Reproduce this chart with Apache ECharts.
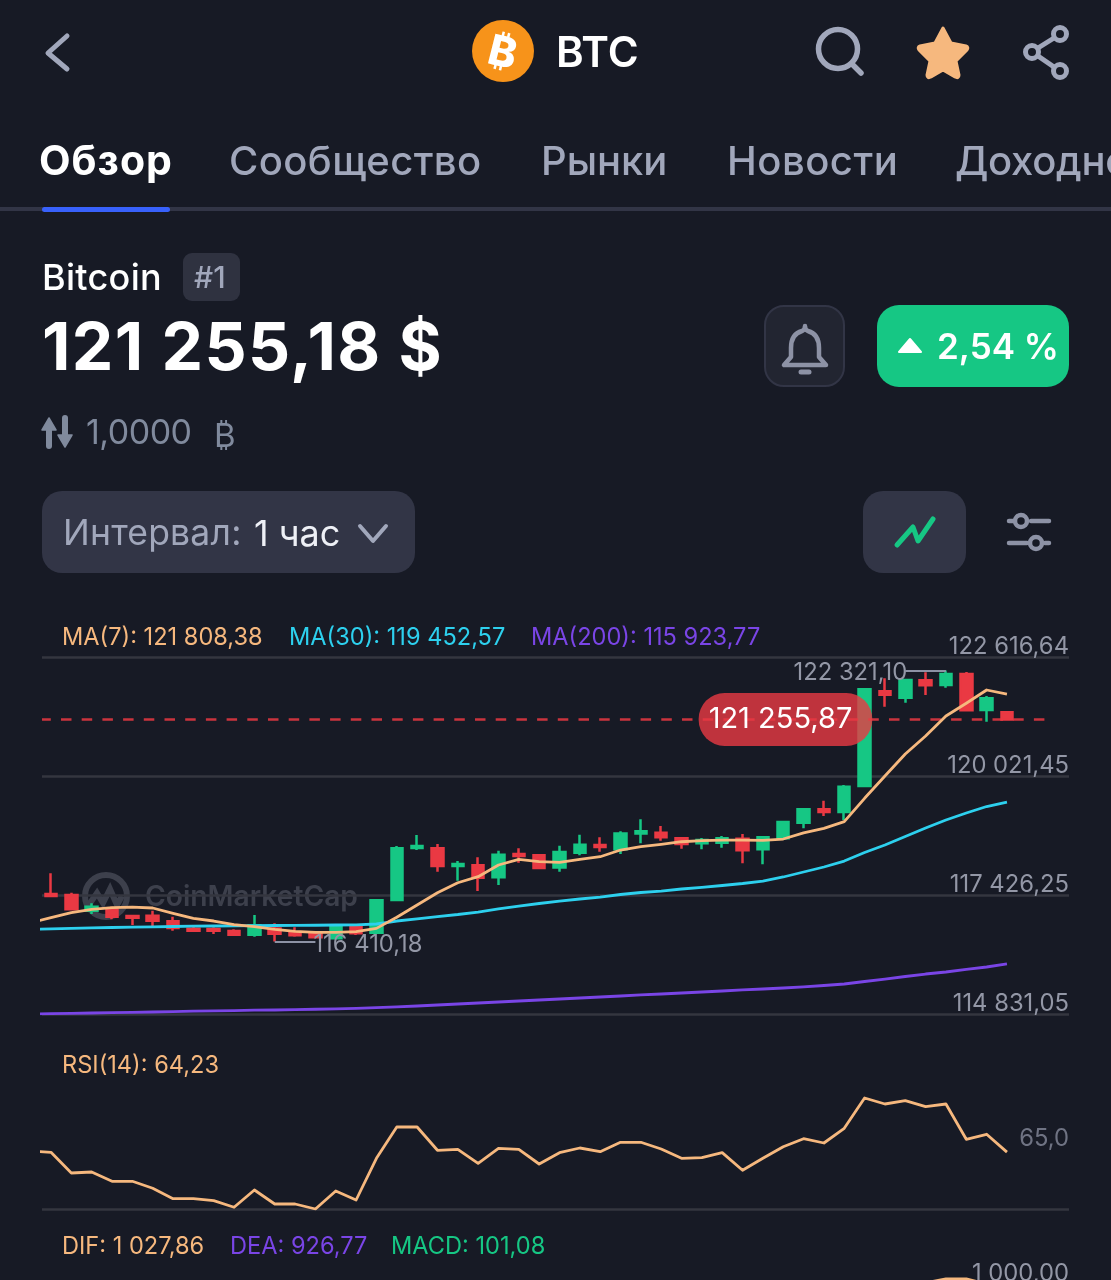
<!DOCTYPE html>
<html lang="ru">
<head>
<meta charset="utf-8">
<title>BTC</title>
<script src="https://cdn.jsdelivr.net/npm/echarts@6/dist/echarts.min.js"></script>
<style>
  html, body { margin: 0; padding: 0; width: 1111px; height: 1280px; overflow: hidden; background: #171a25; font-family: Inter, sans-serif; }
  #chart { position: absolute; left: 0; top: 0; width: 1111px; height: 1280px; }
  .t { position: absolute; white-space: nowrap; line-height: 1; }
  .box { position: absolute; box-sizing: border-box; }
  svg.ic { position: absolute; left: 0; top: 0; width: 1111px; height: 600px; pointer-events: none; }
</style>
</head>
<body>
<div id="chart"></div>

<div class="box" style="left:0;top:207px;width:1111px;height:4px;background:#323546"></div>
<div class="box" style="left:42px;top:207px;width:128px;height:5px;background:#3861fb;border-radius:3px"></div>
<div class="box" style="left:183px;top:253px;width:57px;height:48px;background:#2f3240;border-radius:9px"></div>
<div class="box" style="left:764px;top:305px;width:81px;height:82px;background:#222531;border:2px solid #323546;border-radius:20px"></div>
<div class="box" style="left:877px;top:305px;width:192px;height:82px;background:#16c784;border-radius:22px"></div>
<div class="box" style="left:42px;top:491px;width:373px;height:82px;background:#323546;border-radius:20px"></div>
<div class="box" style="left:863px;top:491px;width:103px;height:82px;background:#323546;border-radius:20px"></div>

<svg class="ic" viewBox="0 0 1111 600" fill="none" stroke-linecap="round" stroke-linejoin="round">
  <path d="M67 36 L48 53 L67 69" stroke="#a1a7bb" stroke-width="5"/>
  <circle cx="503" cy="51" r="31" fill="#f7931a"/>
  <circle cx="838" cy="49" r="19.5" stroke="#a1a7bb" stroke-width="5.5"/>
  <path d="M852 64 L861 73" stroke="#a1a7bb" stroke-width="5.5"/>
  <path d="M943 28 L951 43 L966 46 Q969 47 967 50 L956 61 L959 75 Q959 79 955 77 L943 70 L931 77 Q927 79 927 75 L930 61 L919 50 Q917 47 920 46 L935 43 Z" fill="#f6b87e" stroke="#f6b87e" stroke-width="3"/>
  <circle cx="1060" cy="34" r="6.5" stroke="#a1a7bb" stroke-width="5"/>
  <circle cx="1032" cy="52" r="6.5" stroke="#a1a7bb" stroke-width="5"/>
  <circle cx="1060" cy="71" r="6.5" stroke="#a1a7bb" stroke-width="5"/>
  <path d="M1038 48 L1054 38 M1038 56 L1054 67" stroke="#a1a7bb" stroke-width="5"/>
  <path d="M805 326 Q805 330 802 331 Q791 334 791 348 L791 357 L784 365 L826 365 L819 357 L819 348 Q819 334 808 331 Q805 330 805 326 Z" stroke="#8d92a5" stroke-width="4.5"/>
  <path d="M801 372 L809 372" stroke="#8d92a5" stroke-width="5"/>
  <path d="M910 339 L921 352 L899 352 Z" fill="#fff" stroke="#fff" stroke-width="2"/>
  <path d="M49 430 L49 446" stroke="#808a9d" stroke-width="6"/>
  <path d="M49 418 L56 430 L42 430 Z" fill="#808a9d" stroke="#808a9d" stroke-width="1.5"/>
  <path d="M65 418 L65 435" stroke="#808a9d" stroke-width="6"/>
  <path d="M65 447 L72 435 L58 435 Z" fill="#808a9d" stroke="#808a9d" stroke-width="1.5"/>
  <path d="M360 526 L373 541 L386 526" stroke="#a1a7bb" stroke-width="4"/>
  <path d="M897 545 L913 527 L918 541 L933 519" stroke="#16c784" stroke-width="5"/>
  <circle cx="1021" cy="521" r="6" stroke="#8d92a5" stroke-width="4.5"/>
  <circle cx="1036" cy="543" r="6" stroke="#8d92a5" stroke-width="4.5"/>
  <path d="M1009 521 L1013 521 M1031 521 L1049 521 M1009 543 L1027 543 M1045 543 L1049 543" stroke="#8d92a5" stroke-width="4.5"/>
</svg>

<span class="t" style="left:503px;top:51px;transform:translate(-50%,-50%) rotate(14deg);font:800 42px Inter;color:#fff">₿</span>
<span class="t" style="left:556px;top:31px;font-size:42px;font-weight:600;color:#fff">BTC</span>

<span class="t" style="left:39px;top:140px;font-size:41px;font-weight:700;color:#fff;letter-spacing:1px">Обзор</span>
<span class="t" style="left:229px;top:141px;font-size:40px;font-weight:500;color:#a1a7bb;letter-spacing:.4px">Сообщество</span>
<span class="t" style="left:541px;top:141px;font-size:40px;font-weight:500;color:#a1a7bb">Рынки</span>
<span class="t" style="left:727px;top:141px;font-size:40px;font-weight:500;color:#a1a7bb;letter-spacing:.5px">Новости</span>
<span class="t" style="left:955px;top:141px;font-size:40px;font-weight:500;color:#a1a7bb;letter-spacing:-.3px">Доходность</span>

<span class="t" style="left:42px;top:259px;font-size:36px;font-weight:500;color:#fff;letter-spacing:.3px">Bitcoin</span>
<span class="t" style="left:194px;top:262px;font-size:30px;font-weight:500;color:#a1a7bb">#1</span>
<span class="t" style="left:42px;top:313px;font-size:66px;font-weight:700;color:#fff;letter-spacing:1.35px">121 255,18 $</span>
<span class="t" style="left:937px;top:329px;font-size:35px;font-weight:600;color:#fff">2,54 %</span>
<span class="t" style="left:86px;top:415px;font-size:34px;font-weight:400;color:#808a9d;letter-spacing:-.5px">1,0000</span>
<span class="t" style="left:214px;top:415px;font:400 33px Inter;color:#808a9d">₿</span>
<span class="t" style="left:63px;top:515px;font-size:35.5px;font-weight:400;color:#a1a7bb;letter-spacing:.2px">Интервал:</span>
<span class="t" style="left:254px;top:515px;font-size:36px;font-weight:400;color:#eef0f6">1 час</span>

<script>
// price axis of the candle panel
const priceTicks = [114831.05, 117426.25, 120021.45, 122616.64];
const lastPrice = 121255.87;
const lowMark = 116410.18;
const highMark = 122321.10;

// index of each candle, left to right
const candleIndex = [0,1,2,3,4,5,6,7,8,9,10,11,12,13,14,15,16,17,18,19,20,21,22,23,24,25,26,27,28,29,30,31,32,33,34,35,36,37,38,39,40,41,42,43,44,45,46,47];

const opens = [117448,117426,117084,117114,116968,116975,116852,116691,116685,116641,116560,116698,116591,116569,116482,116722,116604,117317,118451,118444,118058,118074,117812,118320,118292,118028,118348,118516,118423,118769,118783,118663,118553,118567,118654,118423,118663,119003,119295,119236,119803,121869,121729,122109,122006,122246,121461,121411];
const closes = [117404,117114,117171,116953,116931,116866,116706,116647,116647,116560,116765,116582,116547,116504,116722,116591,117310,118444,118495,118058,118102,117803,118305,118277,118015,118364,118523,118471,118769,118815,118684,118538,118625,118663,118401,118684,119016,119295,119236,119788,121913,121795,122115,122000,122246,121454,121716,121255.87];
const lows = [117404,117110,117012,116896,116772,116750,116647,116634,116576,116538,116517,116410.18,116517,116488,116466,116554,116591,117289,118407,117934,117738,117513,117644,118130,118006,117934,118292,118370,118320,118553,118608,118434,118423,118458,118117,118096,118654,118881,119149,119062,119788,121533,121620,121788,121947,121446,121206,121255.87];
const highs = [117899,117476,117245,117171,116983,117084,116953,116772,116722,116678,116990,116809,116722,116597,116772,116750,117332,118493,118735,118538,118167,118248,118392,118444,118298,118501,118741,118684,118815,119077,118931,118684,118667,118713,118754,118684,119025,119310,119483,119825,121913,122152,122115,122283,122321.10,122290,121766,121417];

// moving averages and indicators start one hour earlier, cut off by the panel edge
const lineIndex = [-1].concat(candleIndex);
const ma7 = [116824,116931,117040,117114,117149,117164,117143,117027,116918,116859,116778,116735,116678,116634,116613,116613,116626,116698,116940,117208,117476,117694,117825,118080,118205,118152,118139,118205,118261,118407,118479,118532,118588,118610,118625,118625,118619,118647,118783,118881,119025,119535,120021,120501,120894,121330,121607,121897,121808.38];
const ma30 = [116674,116689,116700,116709,116717,116724,116730,116739,116746,116750,116754,116757,116761,116765,116767,116772,116776,116794,116859,116907,116957,117001,117055,117125,117186,117241,117295,117339,117382,117437,117481,117513,117557,117594,117633,117677,117731,117819,117928,118037,118167,118353,118516,118702,118887,119062,119214,119356,119452.57];
const ma200 = [114831,114838,114844,114853,114860,114866,114875,114884,114892,114899,114905,114914,114918,114927,114935,114944,114955,114970,114988,115005,115027,115049,115071,115093,115115,115136,115158,115180,115202,115224,115246,115267,115289,115311,115333,115355,115376,115398,115424,115453,115485,115540,115594,115649,115703,115747,115802,115856,115923.77];
const rsi = [64.5,64.18,59,59.25,56.93,56.93,55.18,52.58,52.58,52.08,50.43,54.75,51.25,51.25,50,54.5,52.25,62.68,70.5,70.5,64.68,64.93,61.43,65.18,64.93,61.25,64.08,65.25,64.33,66.68,66.68,65,62.68,62.83,64.08,59.68,62.68,65.58,67.58,66.5,70.18,77.75,76.25,77.08,75.58,76.25,67.43,68.68,64.23];

// only the tail of DIF reaches into the visible strip
const difIndex = [40,41,42,43,44,45,46,47];
const dif = [640,800,930,1020,1085,1085,1000,1027.86];

const UP = '#16c784';
const DOWN = '#ea3943';
const GRID = '#34363f';
const LABEL = '#9397a6';
const MA7_COLOR = '#f6b87e';
const MA30_COLOR = '#2dd0ee';
const MA200_COLOR = '#7a45e6';

function formatRu(v, digits) {
    const parts = v.toFixed(digits).split('.');
    return parts[0].replace(/\B(?=(\d{3})+$)/g, ' ') + ',' + parts[1];
}

function pairs(xs, ys) {
    return xs.map((x, i) => [x, ys[i]]);
}

function legendText(x, y, text, color) {
    return {
        type: 'text', left: x, top: y,
        style: { text, fill: color, font: '400 23.6px Inter' },
    };
}

function valueAxis(gridIndex, min, max, tickValues, labelValues, labelFormat, labelColor, labelLineHeight) {
    return {
        type: 'value', gridIndex, position: 'right', min, max, scale: true,
        axisLine: { show: false },
        axisTick: { show: false, customValues: tickValues },
        splitLine: { show: true, lineStyle: { color: GRID, width: 2.5 } },
        axisLabel: {
            show: true, inside: true, margin: 0, align: 'right', verticalAlign: 'bottom',
            color: labelColor, fontSize: 23.8, fontFamily: 'Inter', lineHeight: labelLineHeight,
            customValues: labelValues, formatter: labelFormat,
        },
    };
}

function xAxisFor(gridIndex) {
    return { type: 'value', gridIndex, min: -0.4425, max: 50.05, show: false, splitLine: { show: false } };
}

function lineSeries(name, axisIndex, xs, ys, color) {
    return {
        name, type: 'line', xAxisIndex: axisIndex, yAxisIndex: axisIndex,
        data: pairs(xs, ys), showSymbol: false, silent: true, z: 5,
        lineStyle: { color, width: 2.8, join: 'round' },
    };
}

function extremeLabel(value, offset) {
    return {
        show: true, position: 'end', distance: 0, offset, color: LABEL, fontSize: 23.8,
        fontFamily: 'Inter', formatter: formatRu(value, 2),
    };
}

const chart = echarts.init(document.getElementById('chart'), null, { renderer: 'canvas' });

const leaderStyle = { color: '#8d92a5', width: 2, type: 'solid' };

chart.setOption({
    animation: false,
    backgroundColor: 'transparent',
    tooltip: { show: false },
    grid: [
        { left: 42, right: 42, top: 657, height: 357, outerBoundsMode: 'none' },
        { left: 42, right: 42, top: 1090, height: 119, outerBoundsMode: 'none' },
        { left: 42, right: 42, top: 1260, height: 24, outerBoundsMode: 'none' },
    ],
    xAxis: [xAxisFor(0), xAxisFor(1), xAxisFor(2)],
    yAxis: [
        valueAxis(0, priceTicks[0], priceTicks[3], priceTicks, priceTicks, v => formatRu(v, 2), LABEL, 20),
        valueAxis(1, 50, 79.75, [50], [65], v => formatRu(v, 1), '#6f7383', 20),
        valueAxis(2, 1000, 1400, [1000], [1000], v => formatRu(v, 2), LABEL, 20),
    ],
    graphic: [
        legendText(62, 626, 'MA(7): 121 808,38', MA7_COLOR),
        legendText(289, 626, 'MA(30): 119 452,57', MA30_COLOR),
        legendText(531, 626, 'MA(200): 115 923,77', MA200_COLOR),
        legendText(62, 1054, 'RSI(14): 64,23', MA7_COLOR),
        legendText(62, 1235, 'DIF: 1 027,86', MA7_COLOR),
        legendText(230, 1235, 'DEA: 926,77', MA200_COLOR),
        legendText(391, 1235, 'MACD: 101,08', UP),
        {
            type: 'circle', z: 0, shape: { cx: 106, cy: 896, r: 21 },
            style: { fill: 'none', stroke: '#3d404c', lineWidth: 6 },
        },
        {
            type: 'polyline', z: 0,
            shape: { points: [[88, 906], [97, 893], [103, 903], [110, 889], [117, 905], [122, 896]] },
            style: { fill: 'none', stroke: '#3d404c', lineWidth: 6 },
        },
        {
            type: 'text', z: 0, left: 145, top: 884,
            style: { text: 'CoinMarketCap', fill: '#3d404c', font: '600 28.2px Inter' },
        },
    ],
    series: [
        {
            name: 'BTC', type: 'candlestick', xAxisIndex: 0, yAxisIndex: 0,
            barWidth: 12, silent: true, z: 3,
            data: candleIndex.map((x, i) => [x, opens[i], closes[i], lows[i], highs[i]]),
            itemStyle: { color: UP, color0: DOWN, borderColor: UP, borderColor0: DOWN, borderWidth: 2.5 },
            markLine: {
                silent: true, symbol: 'none', animation: false,
                data: [
                    [
                        {
                            coord: [-0.4425, lastPrice],
                            lineStyle: { color: DOWN, width: 2.5, opacity: 0.85, type: [10.5, 10.2], dashOffset: 1.7 },
                            label: { show: false },
                        },
                        { coord: [48.87, lastPrice] },
                    ],
                    [
                        {
                            coord: [11, lowMark], lineStyle: leaderStyle,
                            label: extremeLabel(lowMark, [-2, 3]),
                        },
                        { coord: [13, lowMark] },
                    ],
                    [
                        {
                            coord: [44, highMark], lineStyle: leaderStyle,
                            label: extremeLabel(highMark, [2, 2]),
                        },
                        { coord: [42, highMark] },
                    ],
                ],
            },
            markPoint: {
                silent: true, animation: false, z: 8,
                data: [{
                    coord: [36.11, lastPrice], symbol: 'circle', symbolSize: 1,
                    itemStyle: { color: 'transparent' },
                    label: {
                        show: true, position: 'inside', formatter: formatRu(lastPrice, 2),
                        color: '#fff', fontSize: 29, fontFamily: 'Inter', lineHeight: 31,
                        backgroundColor: 'rgba(234,57,67,0.8)', borderRadius: 26,
                        padding: [12, 20, 10, 10],
                    },
                }],
            },
        },
        lineSeries('MA200', 0, lineIndex, ma200, MA200_COLOR),
        lineSeries('MA30', 0, lineIndex, ma30, MA30_COLOR),
        lineSeries('MA7', 0, lineIndex, ma7, MA7_COLOR),
        lineSeries('RSI', 1, lineIndex, rsi, MA7_COLOR),
        lineSeries('DIF', 2, difIndex, dif, MA7_COLOR),
    ],
});
</script>
</body>
</html>
